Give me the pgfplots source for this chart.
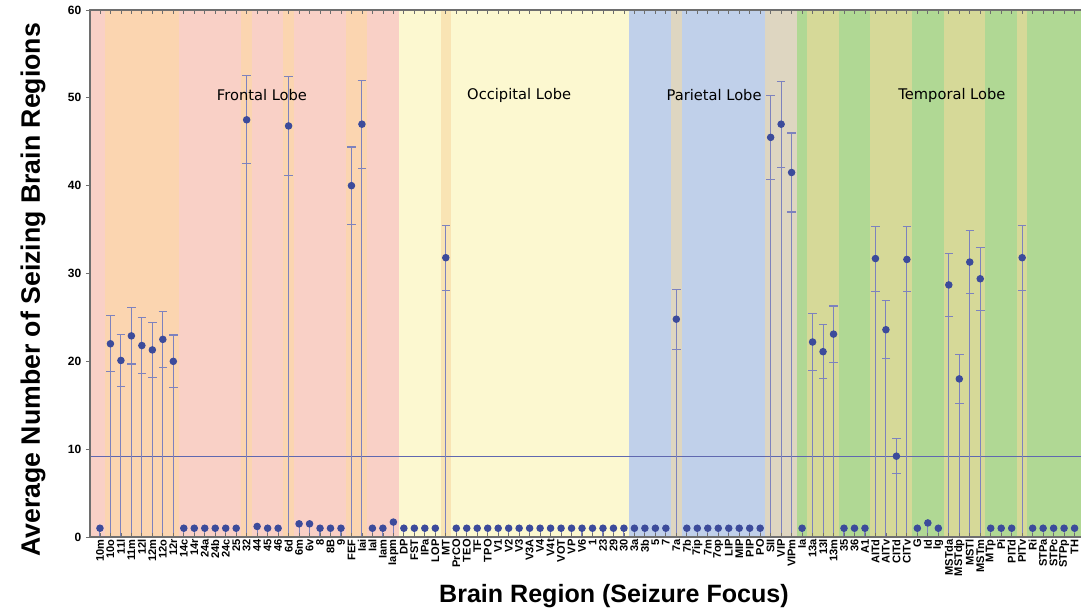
\documentclass[border=0pt]{standalone}
\usepackage{pgfplots}
\pgfplotsset{compat=1.18}
\usepackage{pgfplotstable}
\usepackage{fontspec}
\setmainfont{Liberation Sans}
\newfontfamily\djv{DejaVu Sans}

\definecolor{pinkbg}{RGB}{249,208,198}
\definecolor{orgbg}{RGB}{251,213,176}
\definecolor{yelbg}{RGB}{252,248,208}
\definecolor{porgbg}{RGB}{249,228,180}
\definecolor{bluebg}{RGB}{192,208,234}
\definecolor{tanbg}{RGB}{222,214,193}
\definecolor{grnbg}{RGB}{176,216,148}
\definecolor{olvbg}{RGB}{214,217,152}
\definecolor{markc}{RGB}{60,75,155}
\definecolor{stemc}{RGB}{125,130,190}
\definecolor{linec}{RGB}{96,104,176}
\definecolor{axc}{RGB}{110,110,110}

\pgfplotstableread{
x y
0 1.0
1 22.0
2 20.1
3 22.9
4 21.8
5 21.3
6 22.5
7 20.0
8 1.0
9 1.0
10 1.0
11 1.0
12 1.0
13 1.0
14 47.5
15 1.2
16 1.0
17 1.0
18 46.8
19 1.5
20 1.5
21 1.0
22 1.0
23 1.0
24 40.0
25 47.0
26 1.0
27 1.0
28 1.7
29 1.0
30 1.0
31 1.0
32 1.0
33 31.8
34 1.0
35 1.0
36 1.0
37 1.0
38 1.0
39 1.0
40 1.0
41 1.0
42 1.0
43 1.0
44 1.0
45 1.0
46 1.0
47 1.0
48 1.0
49 1.0
50 1.0
51 1.0
52 1.0
53 1.0
54 1.0
55 24.8
56 1.0
57 1.0
58 1.0
59 1.0
60 1.0
61 1.0
62 1.0
63 1.0
64 45.5
65 47.0
66 41.5
67 1.0
68 22.2
69 21.1
70 23.1
71 1.0
72 1.0
73 1.0
74 31.7
75 23.6
76 9.2
77 31.6
78 1.0
79 1.6
80 1.0
81 28.7
82 18.0
83 31.3
84 29.4
85 1.0
86 1.0
87 1.0
88 31.8
89 1.0
90 1.0
91 1.0
92 1.0
93 1.0
}\alldata

\pgfplotstableread{
x y e
1 22.0 3.2
2 20.1 3.0
3 22.9 3.2
4 21.8 3.2
5 21.3 3.1
6 22.5 3.2
7 20.0 3.0
14 47.5 5.0
18 46.8 5.6
24 40.0 4.4
25 47.0 5.0
33 31.8 3.7
55 24.8 3.4
64 45.5 4.8
65 47.0 4.9
66 41.5 4.5
68 22.2 3.2
69 21.1 3.1
70 23.1 3.2
74 31.7 3.7
75 23.6 3.3
76 9.2 2.0
77 31.6 3.7
81 28.7 3.6
82 18.0 2.8
83 31.3 3.6
84 29.4 3.6
88 31.8 3.7
}\errdata

\newcommand\bg[3]{\addplot[draw=none, fill=#1, forget plot] coordinates {(#2,60) (#3,60)} \closedcycle;}

\begin{document}
\begin{tikzpicture}
\useasboundingbox (0,0) rectangle (810.75pt,458.25pt);
\begin{axis}[
  at={(67.5pt,55.5pt)}, anchor=south west,
  scale only axis, width=744.7pt, height=395.25pt,
  xmin=-0.95, xmax=93.8, ymin=0, ymax=60,
  xtick={0,...,93},
  xticklabels={10m,10o,11l,11m,12l,12m,12o,12r,14c,14r,24a,24b,24c,25,32,44,45,46,6d,6m,6v,8,8B,9,FEF,Iai,Ial,Iam,Iapm,
    DP,FST,IPa,LOP,MT,PrCO,TEO,TF,TPO,V1,V2,V3,V3A,V4,V4t,VOT,VP,V6,1,23,29,30,
    3a,3b,5,7,7a,7b,7ip,7m,7op,LIP,MIP,PIP,PO,SII,VIP,VIPm,
    Ia,13a,13l,13m,35,36,A1,AITd,AITv,CITd,CITv,G,Id,Ig,MSTda,MSTdp,MSTl,MSTm,MTp,Pi,PITd,PITv,Ri,STPa,STPc,STPp,TH},
  xticklabel style={rotate=90, anchor=east, font=\bfseries\fontsize{8.3}{8.3}\selectfont, inner sep=1.5pt},
  ytick={0,10,...,60},
  yticklabel style={font=\bfseries\fontsize{9}{9}\selectfont},
  /pgf/number format/assume math mode=true,
  xtick align=inside, ytick align=outside, ytick pos=left,
  major tick length=3pt,
  tick style={color=axc, line width=0.6pt},
  axis line style={draw=axc, line width=1.3pt},
  every axis y label/.style={at={(axis description cs:-0.0574,0.469)}, rotate=90, anchor=center},
  every axis x label/.style={at={(axis description cs:0.5277,-0.112)}, anchor=center},
  ylabel={\bfseries\fontsize{20}{20}\selectfont Average Number of Seizing Brain Regions},
  xlabel={\bfseries\fontsize{18.8}{19}\selectfont Brain Region (Seizure Focus)},
  axis on top,
]
% Frontal
\bg{pinkbg}{-1}{0.5}
\bg{orgbg}{0.5}{7.5}
\bg{pinkbg}{7.5}{13.5}
\bg{orgbg}{13.5}{14.5}
\bg{pinkbg}{14.5}{17.5}
\bg{orgbg}{17.5}{18.5}
\bg{pinkbg}{18.5}{23.5}
\bg{orgbg}{23.5}{25.5}
\bg{pinkbg}{25.5}{28.5}
% Occipital
\bg{yelbg}{28.5}{32.5}
\bg{porgbg}{32.5}{33.5}
\bg{yelbg}{33.5}{50.5}
% Parietal
\bg{bluebg}{50.5}{54.5}
\bg{tanbg}{54.5}{55.5}
\bg{bluebg}{55.5}{63.5}
\bg{tanbg}{63.5}{66.5}
% Temporal
\bg{grnbg}{66.5}{67.5}
\bg{olvbg}{67.5}{70.5}
\bg{grnbg}{70.5}{73.5}
\bg{olvbg}{73.5}{77.5}
\bg{grnbg}{77.5}{80.5}
\bg{olvbg}{80.5}{84.5}
\bg{grnbg}{84.5}{87.5}
\bg{olvbg}{87.5}{88.5}
\bg{grnbg}{88.5}{94}

\addplot[color=linec, line width=0.6pt, forget plot] coordinates {(-1,9.15) (94,9.15)};

\addplot[draw=none, mark=none, forget plot,
  error bars/.cd, y dir=both, y explicit,
  error bar style={color=stemc, line width=0.8pt},
  error mark options={color=stemc, line width=0.8pt, mark size=3.2pt, rotate=90}]
  table[x=x, y=y, y error=e] {\errdata};

\addplot[ycomb, color=stemc, line width=0.8pt, forget plot,
  mark=*, mark options={fill=markc, draw=markc, solid}, mark size=2.4pt]
  table[x=x, y=y] {\alldata};

\node[font=\djv\fontsize{11}{11}\selectfont] at (axis cs:15.46,50.3) {Frontal Lobe};
\node[font=\djv\fontsize{11}{11}\selectfont] at (axis cs:40.0,50.3) {Occipital Lobe};
\node[font=\djv\fontsize{11}{11}\selectfont] at (axis cs:58.6,50.3) {Parietal Lobe};
\node[font=\djv\fontsize{11}{11}\selectfont] at (axis cs:81.3,50.3) {Temporal Lobe};
\end{axis}
\end{tikzpicture}
\end{document}
